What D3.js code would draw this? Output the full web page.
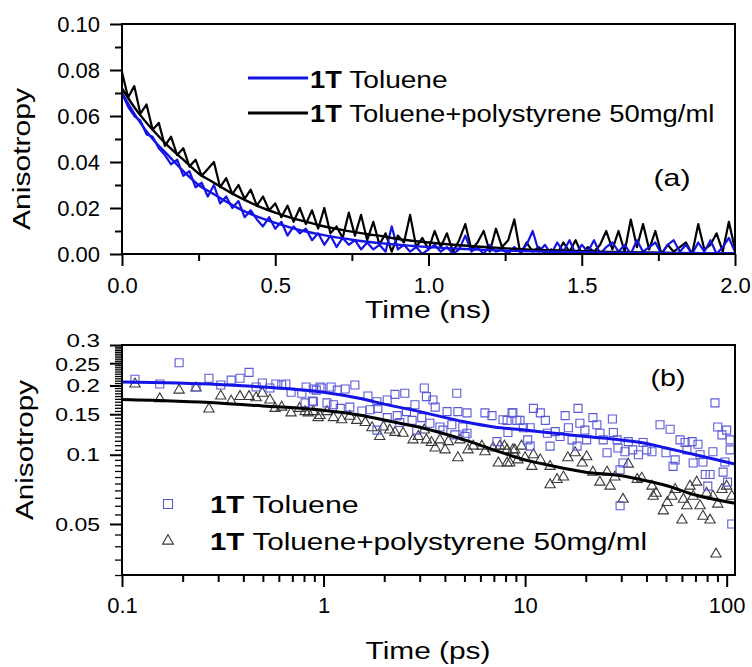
<!DOCTYPE html>
<html>
<head>
<meta charset="utf-8">
<script src="https://cdn.jsdelivr.net/npm/d3@7"></script>
<style>
  body { margin: 0; background: #fff; }
  svg text { font-family: "Liberation Sans", Arial, sans-serif; fill: #000; }
</style>
</head>
<body>
<svg id="chart" width="752" height="667"></svg>
<script>
// ---- panel (a): anisotropy decay, ns scale ----
const timeA = [0,.02,.04,.06,.08,.10,.12,.14,.16,.18,.20,.22,.24,.26,.28,.30,.32,.34,.36,.38,
  .40,.42,.44,.46,.48,.50,.52,.54,.56,.58,.60,.62,.64,.66,.68,.70,.72,.74,.76,.78,
  .80,.82,.84,.86,.88,.90,.92,.94,.96,.98,1.00,1.02,1.04,1.06,1.08,1.10,1.12,1.14,1.16,1.18,
  1.20,1.22,1.24,1.26,1.28,1.30,1.32,1.34,1.36,1.38,1.40,1.42,1.44,1.46,1.48,1.50,1.52,1.54,1.56,1.58,
  1.60,1.62,1.64,1.66,1.68,1.70,1.72,1.74,1.76,1.78,1.80,1.82,1.84,1.86,1.88,1.90,1.92,1.94,1.96,1.98,2.00];

const tolueneRawA = [.070,.064,.060,.058,.052,.051,.046,.043,.039,.041,.034,.036,.029,.031,.025,.030,.022,.025,.020,.023,
  .016,.019,.015,.012,.016,.011,.014,.008,.012,.009,.011,.006,.009,.004,.008,.003,.007,.004,.006,.002,
  .005,.002,.004,.001,.012,.002,.004,.001,.003,.000,.002,.004,.001,.003,.000,.002,.008,.001,.003,.000,
  .004,.001,.002,.000,.003,.001,.004,.010,.001,.004,.000,.005,.001,.006,.000,.004,.001,.006,.000,.003,
  .005,.001,.004,.000,.006,.001,.003,.005,.000,.004,.006,.001,.004,.000,.005,.001,.006,.000,.003,.007,.001];

const polyRawA = [.079,.068,.073,.061,.065,.054,.057,.047,.051,.043,.046,.038,.041,.034,.037,.040,.029,.033,.026,.030,
  .024,.028,.021,.025,.019,.022,.016,.021,.014,.020,.013,.019,.011,.020,.009,.012,.007,.018,.008,.017,
  .006,.014,.004,.009,.001,.008,.005,.017,.003,.007,.002,.010,.003,.009,.001,.006,.013,.002,.005,.010,
  .001,.011,.003,.006,.015,.000,.005,.001,.003,.000,.002,.000,.005,.001,.006,.000,.003,.001,.004,.010,
  .002,.010,.001,.015,.003,.013,.002,.010,.000,.004,.001,.003,.005,.000,.013,.002,.004,.009,.001,.014,.002];

const fitTimeA = [0,.05,.1,.15,.2,.25,.3,.35,.4,.45,.5,.55,.6,.65,.7,.75,.8,.85,.9,.95,1.0,1.1,1.2,1.3,1.4,1.5,1.6,1.7,1.8,1.9,2.0];
const tolueneFitA = [.070,.059,.050,.043,.036,.030,.026,.022,.0185,.0158,.0135,.0115,.0098,.0084,.0072,.0062,.0053,.0046,.0040,.0035,
  .0030,.0023,.0017,.0013,.0010,.0008,.0006,.0005,.0004,.0003,.0003];
const polyFitA = [.072,.062,.054,.047,.041,.035,.031,.027,.0235,.0205,.018,.0158,.014,.0123,.0109,.0097,.0086,.0077,.0065,.0057,
  .0050,.0038,.0029,.0021,.0016,.0012,.0009,.0007,.0005,.0003,.0002];

const xTicksA = [0, 0.5, 1.0, 1.5, 2.0];
const yTicksA = [0, 0.02, 0.04, 0.06, 0.08, 0.10];

// ---- panel (b): anisotropy, ps scale (log-log) ----
const tolueneB = [[0.116,0.213],[0.154,0.203],[0.192,0.251],[0.233,0.197],[0.270,0.215],[0.309,0.201],[0.348,0.211],[0.385,0.215],
  [0.427,0.228],[0.463,0.197],[0.497,0.205],[0.542,0.195],[0.58,0.203],[0.62,0.201],[0.65,0.203],[0.69,0.187],[0.78,0.185],
  [0.82,0.197],[0.88,0.171],[0.92,0.191],[0.96,0.197],[0.81,0.168],[0.89,0.193],[0.89,0.170],[0.98,0.195],[1.04,0.168],
  [1.09,0.197],[1.12,0.165],[1.17,0.191],[1.21,0.159],[1.28,0.193],[1.35,0.161],[1.43,0.201],[1.55,0.155],[1.66,0.180],
  [1.70,0.157],[1.84,0.170],[1.86,0.159],[1.84,0.128],[2.07,0.173],[2.07,0.145],[2.26,0.183],[2.32,0.148],[2.39,0.138],
  [2.53,0.185],[2.58,0.154],[2.75,0.141],[2.84,0.165],[2.90,0.128],[3.07,0.145],[3.16,0.195],[3.24,0.179],[3.37,0.137],
  [3.49,0.173],[3.58,0.161],[3.78,0.132],[3.91,0.128],[4.10,0.154],[4.33,0.135],[4.48,0.122],[4.58,0.185],[4.64,0.154],
  [4.91,0.132],[5.15,0.152],[5.15,0.124],[5.03,0.120],[6.32,0.152],[6.85,0.148],[7.25,0.114],[7.77,0.142],[8.61,0.152],
  [9.10,0.141],[8.14,0.141],[8.70,0.152],[9.43,0.141],[8.22,0.125],[9.8,0.131],[11.0,0.159],[11.9,0.152],[12.6,0.141],
  [10.6,0.131],[10.3,0.116],[10.6,0.109],[12.9,0.124],[13.3,0.109],[14.1,0.126],[14.9,0.120],[15.8,0.148],[16.4,0.131],
  [17.1,0.116],[18.3,0.159],[18.7,0.137],[18.1,0.109],[19.8,0.128],[20.2,0.116],[21.7,0.145],[22.7,0.135],[23.5,0.124],
  [24.4,0.116],[25.5,0.102],[27.1,0.143],[27.4,0.125],[28.6,0.116],[28.9,0.107],[29.6,0.086],[30.6,0.092],[31.3,0.103],
  [32.5,0.114],[34.2,0.105],[36.5,0.100],[38.5,0.113],[40.1,0.105],[29.6,0.060],[42.6,0.103],[46.7,0.135],[52.4,0.129],
  [50,0.102],[54.2,0.089],[55.5,0.095],[58.7,0.116],[62.2,0.113],[63.5,0.105],[67.4,0.114],[68.2,0.092],[72.1,0.111],
  [73.8,0.100],[76.3,0.093],[78.3,0.082],[82.7,0.082],[87.5,0.168],[85.5,0.103],[80.6,0.073],[90.3,0.132],[94.8,0.122],
  [100,0.128],[104,0.116],[96,0.084],[101,0.076],[98,0.093],[106,0.050],[104,0.105]];

const polyB = [[0.116,0.203],[0.154,0.175],[0.192,0.191],[0.233,0.195],[0.270,0.158],[0.309,0.180],[0.348,0.171],[0.385,0.179],
  [0.427,0.179],[0.463,0.177],[0.497,0.185],[0.542,0.173],[0.575,0.159],[0.62,0.161],[0.69,0.152],[0.76,0.159],[0.84,0.152],
  [0.94,0.145],[0.81,0.154],[0.89,0.154],[0.96,0.148],[1.04,0.154],[1.12,0.145],[1.23,0.142],[1.35,0.147],[1.46,0.141],
  [1.61,0.138],[1.74,0.131],[1.90,0.120],[1.98,0.132],[2.13,0.128],[2.26,0.125],[2.48,0.124],[2.78,0.116],[2.95,0.120],
  [3.16,0.128],[3.24,0.116],[3.43,0.113],[3.58,0.107],[3.78,0.116],[4.01,0.105],[4.16,0.114],[4.64,0.097],[4.75,0.116],
  [5.21,0.105],[5.53,0.109],[6.10,0.109],[6.32,0.103],[6.93,0.107],[7.37,0.092],[7.50,0.109],[8.14,0.092],[8.14,0.105],
  [8.89,0.105],[9.21,0.095],[7.9,0.109],[8.7,0.105],[9.6,0.109],[8.4,0.092],[9.99,0.097],[11.0,0.100],[11.9,0.095],
  [10.8,0.089],[13.3,0.089],[14.4,0.078],[15.5,0.080],[13.3,0.074],[16.3,0.097],[17.7,0.102],[19.2,0.092],[20.2,0.098],
  [21.7,0.084],[23.5,0.076],[26.4,0.073],[25.5,0.084],[27.9,0.080],[30.6,0.064],[32.5,0.091],[36,0.078],[37.9,0.079],
  [42.6,0.073],[44.7,0.068],[48.5,0.057],[50.7,0.062],[53.5,0.066],[55.5,0.0706],[60,0.052],[63.5,0.060],[65.8,0.073],
  [68.2,0.066],[73.8,0.060],[76.3,0.054],[82.7,0.052],[85.5,0.066],[90.3,0.061],[94.8,0.0706],[100,0.073],[106,0.066],
  [88.5,0.037],[71,0.076],[79.5,0.068],[43.2,0.066],[61,0.064]];

const fitTimeB = [0.1, 0.3, 0.5, 1, 1.5, 2, 3, 5, 7, 10, 14, 20, 30, 40, 50, 70, 110];
const tolueneFitB = [0.207, 0.202, 0.197, 0.187, 0.176, 0.166, 0.154, 0.139, 0.132, 0.128, 0.124, 0.120, 0.116, 0.112, 0.107, 0.100, 0.091];
const polyFitB = [0.174, 0.168, 0.163, 0.156, 0.149, 0.1415, 0.1316, 0.116, 0.105, 0.095, 0.089, 0.084, 0.081, 0.077, 0.0735, 0.0668, 0.0615];

const xTicksB = [0.1, 1, 10, 100];
const xTickLabelsB = ["0.1", "1", "10", "100"];
const yTicksB = [0.05, 0.1, 0.15, 0.2, 0.25, 0.3];
const yTickLabelsB = ["0.05", "0.1", "0.15", "0.2", "0.25", "0.3"];

const legendLabels = ["Toluene", "Toluene+polystyrene 50mg/ml"];

const BLUE = "#1414e6", SQUARE = "#5a5ad8", TRI = "#3a3a3a";

const svg = d3.select("#chart");

// text helper: stretched to a measured length, like the original export
function label(g, x, y, str, size, len, opts) {
    opts = opts || {};
    let t = g.append("text")
        .attr("x", x).attr("y", y)
        .attr("font-size", size)
        .attr("text-anchor", opts.anchor || "start")
        .attr("font-weight", opts.bold ? "bold" : null)
        .text(str);
    if (len) t.attr("textLength", len).attr("lengthAdjust", "spacingAndGlyphs");
    if (opts.rotate) t.attr("transform", `rotate(-90,${x},${y})`);
    return t;
}

function styleAxis(g, size, len) {
    g.select(".domain").remove();
    g.selectAll(".tick line").attr("stroke", "#000").attr("stroke-width", 2);
    g.selectAll(".tick text").attr("font-size", size).attr("font-family", null).attr("fill", "#000");
    if (len) g.selectAll(".tick text").each(function(){
        let s = d3.select(this).text();
        d3.select(this).attr("textLength", s.length * len).attr("lengthAdjust", "spacingAndGlyphs");
    });
}

/* ================= panel (a) ================= */
const A = {left: 122, right: 735, top: 24, bottom: 254};

let xA = d3.scaleLinear().domain([0, 2]).range([A.left, A.right]);
let yA = d3.scaleLinear().domain([0, 0.10]).range([A.bottom, A.top]);

svg.append("clipPath").attr("id", "clipA")
    .append("rect").attr("x", A.left).attr("y", A.top - 2)
    .attr("width", A.right - A.left).attr("height", A.bottom - A.top + 2);

let lineA = d3.line().x(d => xA(d[0])).y(d => yA(d[1]));
let fitLineA = d3.line().x(d => xA(d[0])).y(d => yA(d[1])).curve(d3.curveMonotoneX);

let gA = svg.append("g").attr("clip-path", "url(#clipA)");

gA.append("path")
    .datum(timeA.map((t, i) => [t, polyRawA[i]]))
    .attr("d", lineA)
    .attr("fill", "none").attr("stroke", "#000").attr("stroke-width", 2.2).attr("stroke-linejoin", "round");

gA.append("path")
    .datum(timeA.map((t, i) => [t, tolueneRawA[i]]))
    .attr("d", lineA)
    .attr("fill", "none").attr("stroke", BLUE).attr("stroke-width", 2.2).attr("stroke-linejoin", "round");

gA.append("path")
    .datum(fitTimeA.map((t, i) => [t, polyFitA[i]]))
    .attr("d", fitLineA)
    .attr("fill", "none").attr("stroke", "#000").attr("stroke-width", 2.4);

gA.append("path")
    .datum(fitTimeA.map((t, i) => [t, tolueneFitA[i]]))
    .attr("d", fitLineA)
    .attr("fill", "none").attr("stroke", BLUE).attr("stroke-width", 2.4);

// axes (a)
let axA = svg.append("g").attr("transform", `translate(0,${A.bottom})`)
    .call(d3.axisBottom(xA).tickValues(xTicksA).tickFormat(d3.format(".1f")).tickSize(12).tickPadding(11));
styleAxis(axA, 22);
let axAm = svg.append("g").attr("transform", `translate(0,${A.bottom})`)
    .call(d3.axisBottom(xA).tickValues([0.25, 0.75, 1.25, 1.75]).tickFormat("").tickSize(7));
styleAxis(axAm, 22);

let ayA = svg.append("g").attr("transform", `translate(${A.left},0)`)
    .call(d3.axisLeft(yA).tickValues(yTicksA).tickFormat(d3.format(".2f")).tickSize(12).tickPadding(10));
styleAxis(ayA, 22);
let ayAm = svg.append("g").attr("transform", `translate(${A.left},0)`)
    .call(d3.axisLeft(yA).tickValues([0.01, 0.03, 0.05, 0.07, 0.09]).tickFormat("").tickSize(7));
styleAxis(ayAm, 22);

svg.append("rect")
    .attr("x", A.left).attr("y", A.top)
    .attr("width", A.right - A.left).attr("height", A.bottom - A.top)
    .attr("fill", "none").attr("stroke", "#000").attr("stroke-width", 2);

// legend (a)
const emA = 27.2;
[[BLUE, 78, 88, legendLabels[0]], ["#000", 113, 122, legendLabels[1]]].forEach(function(r){
    svg.append("line").attr("x1", 248).attr("x2", 308).attr("y1", r[1]).attr("y2", r[1])
        .attr("stroke", r[0]).attr("stroke-width", 3);
    label(svg, 310, r[2], "1T", 23, 1.167 * emA, {bold: true});
    label(svg, 310 + 1.445 * emA, r[2], r[3], 23, (r[3] == legendLabels[0] ? 3.613 : 13.422) * emA);
});

label(svg, 672, 186, "(a)", 24, 37, {anchor: "middle"});
label(svg, 428, 318, "Time (ns)", 23, 126, {anchor: "middle"});
label(svg, 30, 159, "Anisotropy", 23, 142, {anchor: "middle", rotate: true});

/* ================= panel (b) ================= */
const B = {left: 122, right: 735, top: 345, bottom: 575};

let xB = d3.scaleLog().domain([0.1, 110]).range([B.left, B.right]);
let yB = d3.scaleLog().domain([0.03, 0.3]).range([B.bottom, B.top]);

svg.append("clipPath").attr("id", "clipB")
    .append("rect").attr("x", B.left).attr("y", B.top)
    .attr("width", B.right - B.left).attr("height", B.bottom - B.top);

let gB = svg.append("g").attr("clip-path", "url(#clipB)");

let triSym = d3.symbol().type(d3.symbolTriangle).size(46);
let sqSym = d3.symbol().type(d3.symbolSquare).size(64);

gB.selectAll("path.tri")
    .data(polyB)
    .enter()
    .append("path")
    .attr("class", "tri")
    .attr("d", triSym)
    .attr("transform", d => `translate(${xB(d[0])},${yB(d[1])})`)
    .attr("fill", "none").attr("stroke", TRI).attr("stroke-width", 1.1);

gB.selectAll("path.sq")
    .data(tolueneB)
    .enter()
    .append("path")
    .attr("class", "sq")
    .attr("d", sqSym)
    .attr("transform", d => `translate(${xB(d[0])},${yB(d[1])})`)
    .attr("fill", "none").attr("stroke", SQUARE).attr("stroke-width", 1.1);

let fitLineB = d3.line().x(d => xB(d[0])).y(d => yB(d[1])).curve(d3.curveMonotoneX);

gB.append("path")
    .datum(fitTimeB.map((t, i) => [t, polyFitB[i]]))
    .attr("d", fitLineB)
    .attr("fill", "none").attr("stroke", "#000").attr("stroke-width", 3);

gB.append("path")
    .datum(fitTimeB.map((t, i) => [t, tolueneFitB[i]]))
    .attr("d", fitLineB)
    .attr("fill", "none").attr("stroke", BLUE).attr("stroke-width", 3);

// axes (b)
let minorXB = [];
[0.1, 1, 10].forEach(dec => [2,3,4,5,6,7,8,9].forEach(k => minorXB.push(dec * k)));
let axB = svg.append("g").attr("transform", `translate(0,${B.bottom})`)
    .call(d3.axisBottom(xB).tickValues(xTicksB).tickFormat((d, i) => xTickLabelsB[i]).tickSize(12).tickPadding(10));
styleAxis(axB, 22);
let axBm = svg.append("g").attr("transform", `translate(0,${B.bottom})`)
    .call(d3.axisBottom(xB).tickValues(minorXB).tickFormat("").tickSize(7));
styleAxis(axBm, 22);

let minorYB = d3.range(30, 301, 5).map(v => v / 1000)
    .filter(v => !yTicksB.some(m => Math.abs(m - v) < 1e-9));
let ayBm = svg.append("g").attr("transform", `translate(${B.left},0)`)
    .call(d3.axisLeft(yB).tickValues(minorYB).tickFormat("").tickSize(7));
styleAxis(ayBm, 22);
ayBm.selectAll(".tick line").attr("stroke-width", 1.3);
let ayB = svg.append("g").attr("transform", `translate(${B.left},0)`)
    .call(d3.axisLeft(yB).tickValues(yTicksB).tickFormat((d, i) => yTickLabelsB[i]).tickSize(12).tickPadding(10));
styleAxis(ayB, 17.5, 11.2);
// the top two labels sit very close, nudge them apart a little as in the original
ayB.selectAll(".tick text").attr("dy", d => d === 0.3 ? "0.1em" : (d === 0.25 ? "0.42em" : "0.35em"));

svg.append("rect")
    .attr("x", B.left).attr("y", B.top)
    .attr("width", B.right - B.left).attr("height", B.bottom - B.top)
    .attr("fill", "none").attr("stroke", "#000").attr("stroke-width", 2);

// legend (b)
const emB = 29.4;
svg.append("path").attr("d", sqSym.size(81)())
    .attr("transform", "translate(168,504)")
    .attr("fill", "none").attr("stroke", SQUARE).attr("stroke-width", 1.1);
svg.append("path").attr("d", triSym.size(52)())
    .attr("transform", "translate(168,541)")
    .attr("fill", "none").attr("stroke", TRI).attr("stroke-width", 1.1);
[[513, legendLabels[0], 3.613], [550, legendLabels[1], 13.422]].forEach(function(r){
    label(svg, 210, r[0], "1T", 23, 1.167 * emB, {bold: true});
    label(svg, 210 + 1.445 * emB, r[0], r[1], 23, r[2] * emB);
});

label(svg, 668, 386, "(b)", 24, 35, {anchor: "middle"});
label(svg, 428, 659, "Time (ps)", 23, 125, {anchor: "middle"});
label(svg, 33, 450, "Anisotropy", 23, 140, {anchor: "middle", rotate: true});
</script>
</body>
</html>
